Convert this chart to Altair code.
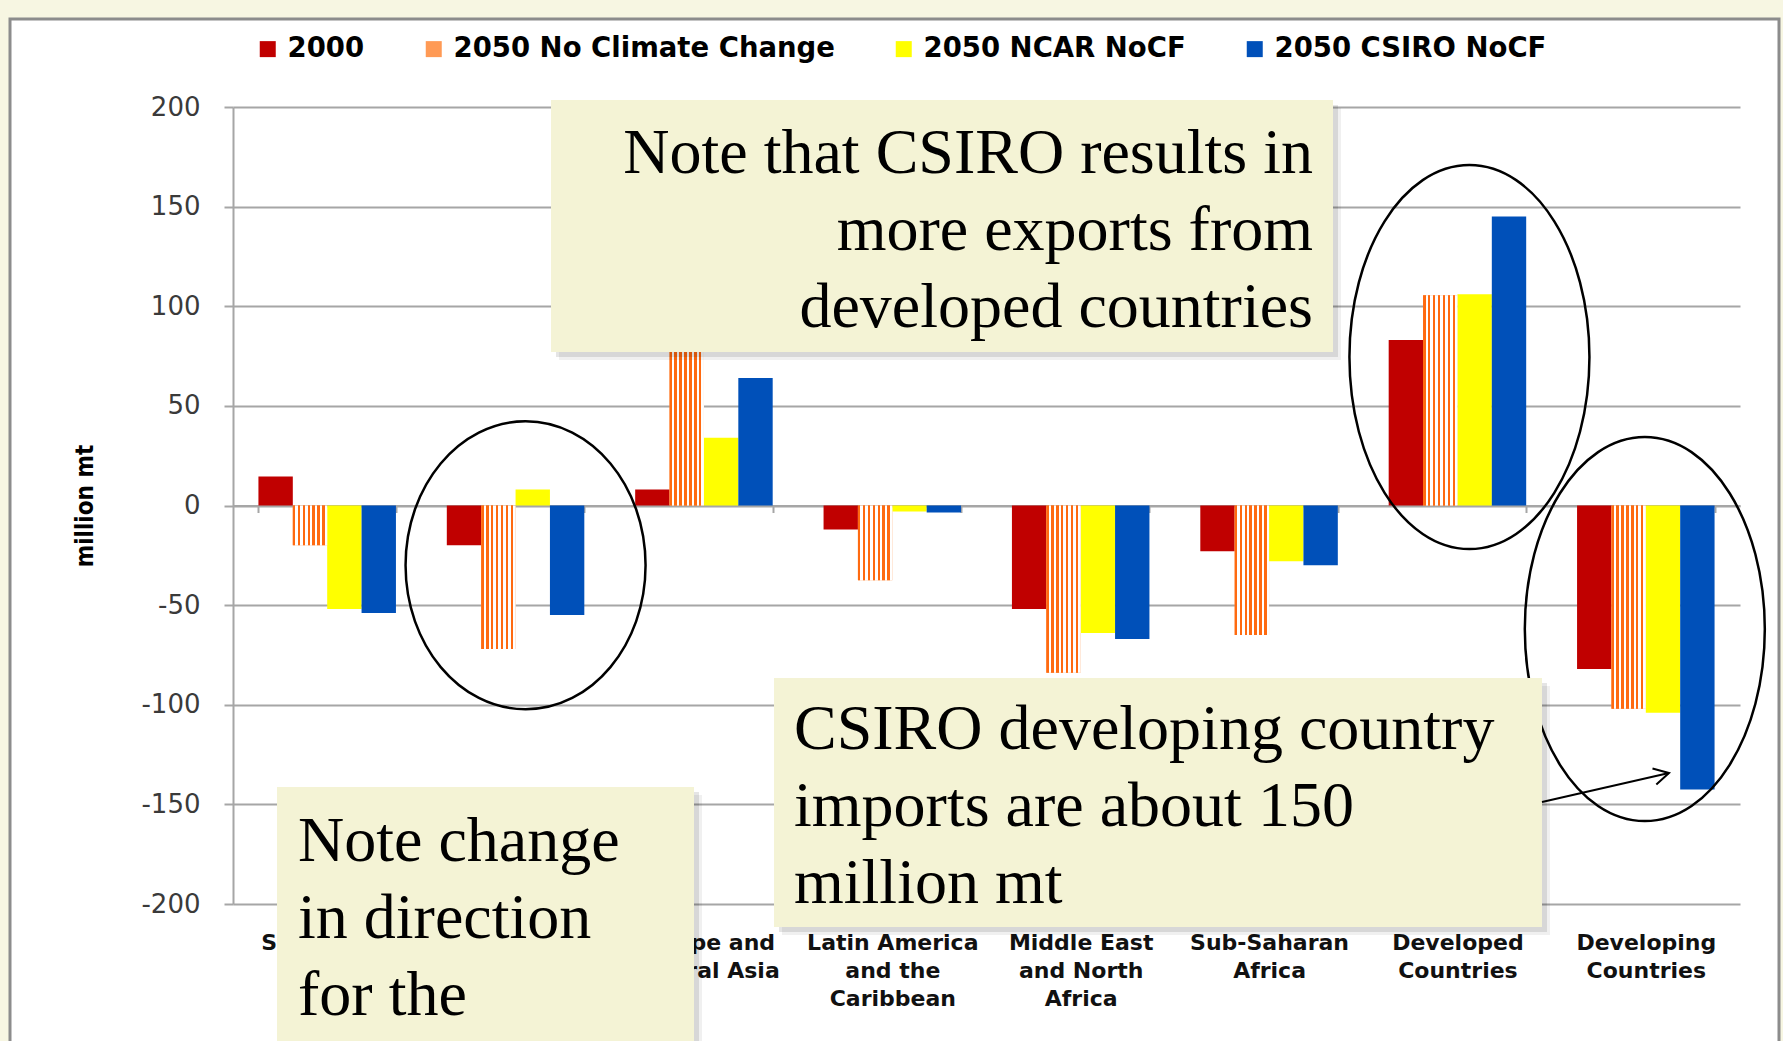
import json
import altair as alt
import pandas as pd

# ---------------- data ----------------
regions = [
    "South Asia",
    "East Asia and the Pacific",
    "Europe and Central Asia",
    "Latin America and the Caribbean",
    "Middle East and North Africa",
    "Sub-Saharan Africa",
    "Developed Countries",
    "Developing Countries",
]
region_lines = [
    ["South Asia"],
    ["East Asia and", "the Pacific"],
    ["Europe and", "Central Asia"],
    ["Latin America", "and the", "Caribbean"],
    ["Middle East", "and North", "Africa"],
    ["Sub-Saharan", "Africa"],
    ["Developed", "Countries"],
    ["Developing", "Countries"],
]
series = ["2000", "2050 No Climate Change", "2050 NCAR NoCF", "2050 CSIRO NoCF"]
v_2000 = [14.5, -20, 8, -12, -52, -23, 83, -82]
v_nocc = [-20, -72, 88, -37.5, -84, -65, 105.5, -102]
v_ncar = [-52, 8, 34, -3, -64, -28, 106, -104]
v_csiro = [-54, -55, 64, -3.5, -67, -30, 145, -142.5]
y_ticks = [-200, -150, -100, -50, 0, 50, 100, 150, 200]

# ellipse annotations (centre region / centre value)
ell_regions = ["East Asia and the Pacific", "Developed Countries", "Developing Countries"]
ell_values = [-30, 74.5, -62]

# ---------------- styles ----------------
colors = ["#C00000", "#FF9A55", "#FFFF00", "#0050B9"]
W, H = 1507, 797
PAD = {"left": 233, "top": 107, "right": 43, "bottom": 137}
BEIGE = "#F7F6E2"
BOX = "#F4F3D5"
GRID = "#A6A6A6"

rows = []
for s, vals in zip(series, [v_2000, v_nocc, v_ncar, v_csiro]):
    for r, v in zip(regions, vals):
        rows.append({"region": r, "series": s, "value": v})
df = pd.DataFrame(rows)
df_nocc = df[df["series"] == series[1]]

label_map = {r: l for r, l in zip(regions, region_lines)}
label_expr = "(" + json.dumps(label_map) + ")[datum.label]"

x_axis = alt.Axis(
    title=None, orient="bottom", offset=-H / 2, grid=False,
    domainColor=GRID, domainWidth=2, tickColor=GRID, tickWidth=2, tickSize=7,
    tickBand="extent", labelAngle=0, labelFont="DejaVu Sans", labelFontWeight="bold",
    labelFontSize=22, labelColor="#111111", labelLineHeight=28,
    labelPadding=H / 2 + 21, labelExpr=label_expr, labelBaseline="top",
)
y_axis = alt.Axis(
    values=y_ticks, title="million mt", grid=True, gridColor=GRID, gridWidth=2,
    domainColor=GRID, domainWidth=2, tickColor=GRID, tickWidth=2, tickSize=9,
    labelPadding=24, labelFont="DejaVu Sans", labelFontSize=26, labelColor="#3A3A3A",
    labelExpr="toString(datum.value)",
    titleFont="DejaVu Sans Condensed", titleFontWeight="bold", titleFontSize=24,
    titleColor="black", titleX=-148, titleY=H / 2, titleAngle=270,
    titleAlign="center", titleBaseline="middle",
)

X = alt.X("region:N", sort=regions,
          scale=alt.Scale(domain=regions, paddingInner=0.27, paddingOuter=0.135),
          axis=x_axis)
XO = alt.XOffset("series:N", sort=series,
                 scale=alt.Scale(domain=series, paddingInner=0, paddingOuter=0))
Y = alt.Y("value:Q", scale=alt.Scale(domain=[-200, 200], nice=False), axis=y_axis)

bars = alt.Chart(df).mark_bar().encode(
    x=X, xOffset=XO, y=Y,
    color=alt.Color(
        "series:N", sort=series, scale=alt.Scale(domain=series, range=colors),
        legend=alt.Legend(
            title=None, orient="none", legendX=21, legendY=-72, direction="horizontal",
            columns=4, columnPadding=55, symbolType="square", symbolSize=256,
            symbolStrokeWidth=0, labelFont="DejaVu Sans", labelFontWeight="bold",
            labelFontSize=27.5, labelColor="black", labelOffset=6, padding=0,
            labelLimit=1000,
        ),
    ),
)

# checker-like texture for the "No Climate Change" bars
n_str = 14
stops = []
for k in range(n_str):
    c = "#FF6A10" if k % 2 == 0 else "#FFFFFF"
    stops.append(alt.GradientStop(offset=k / n_str, color=c))
    stops.append(alt.GradientStop(offset=(k + 1) / n_str, color=c))
grad = alt.LinearGradient(gradient="linear", stops=stops, x1=0, x2=1, y1=0, y2=0)

nocc = alt.Chart(df_nocc).mark_bar(fill=grad).encode(x=X, xOffset=XO, y=Y)

one = pd.DataFrame({"k": [0]})


def rect(x1, x2, y1, y2, **kw):
    return alt.Chart(one).mark_rect(**kw).encode(
        x=alt.value(x1), x2=alt.value(x2), y=alt.value(y1), y2=alt.value(y2))


# outer beige slide frame
frame = [
    rect(-PAD["left"], -223, -PAD["top"], H + PAD["bottom"], fill=BEIGE),
    rect(-PAD["left"], W + PAD["right"], -PAD["top"], -88, fill=BEIGE),
    rect(1546, W + PAD["right"], -PAD["top"], H + PAD["bottom"], fill=BEIGE),
    rect(-223, 1546, -88, H + 200, filled=False, stroke="#8C8C8C", strokeWidth=3),
]

# ellipses
ell_layers = []
ell_specs = [(120, 144, 10), (120, 192, 12), (120, 192, -1)]
for reg, val, (rx, ry, dx) in zip(ell_regions, ell_values, ell_specs):
    a = rx / ry
    path = f"M {-a} 0 A {a} 1 0 1 0 {a} 0 A {a} 1 0 1 0 {-a} 0 Z"
    d = pd.DataFrame({"region": [reg], "value": [val]})
    ell_layers.append(
        alt.Chart(d).mark_point(
            shape=path, size=(2 * ry) ** 2, filled=False, stroke="black",
            strokeWidth=2.5, opacity=1, xOffset=dx,
        ).encode(x=X, y=Y)
    )


def textbox(x1, x2, y1, y2, tx, ty, lines, align):
    return [
        rect(x1 + 8, x2 + 8, y1 + 8, y2 + 8, fill="black", opacity=0.06),
        rect(x1 + 5, x2 + 5, y1 + 5, y2 + 5, fill="black", opacity=0.10),
        rect(x1, x2, y1, y2, fill=BOX),
        alt.Chart(one).mark_text(
            font="Liberation Serif", fontSize=64, align=align, baseline="middle",
            lineHeight=77, color="black",
        ).encode(x=alt.value(tx), y=alt.value(ty), text=alt.value(lines)),
    ]


box1 = textbox(318, 1100, -7, 245, 1080, 47,
               ["Note that CSIRO results in", "more exports from", "developed countries"], "right")
box2 = textbox(541, 1309, 571, 820, 561, 623,
               ["CSIRO developing country", "imports are about 150", "million mt"], "left")
box3 = textbox(44, 461, 680, 960, 65, 735,
               ["Note change", "in direction", "for the"], "left")

arrow_line = alt.Chart(one).mark_rule(color="black", strokeWidth=2).encode(
    x=alt.value(1309), y=alt.value(695), x2=alt.value(1436), y2=alt.value(666))
arrow_head = alt.Chart(one).mark_point(
    shape="M -1 -0.55 L 0 0 L -1 0.55", filled=False, size=900, angle=346.5,
    stroke="black", strokeWidth=2, opacity=1,
).encode(x=alt.value(1436), y=alt.value(666))

chart = alt.layer(
    *frame, bars, nocc, *box1, *ell_layers, *box2, *box3, arrow_line, arrow_head
).properties(
    width=W, height=H, padding=PAD, autosize=alt.AutoSizeParams(type="none"),
    background="white",
).configure_view(strokeWidth=0)

chart.save("out.html", embed_options={"renderer": "svg", "actions": False})
